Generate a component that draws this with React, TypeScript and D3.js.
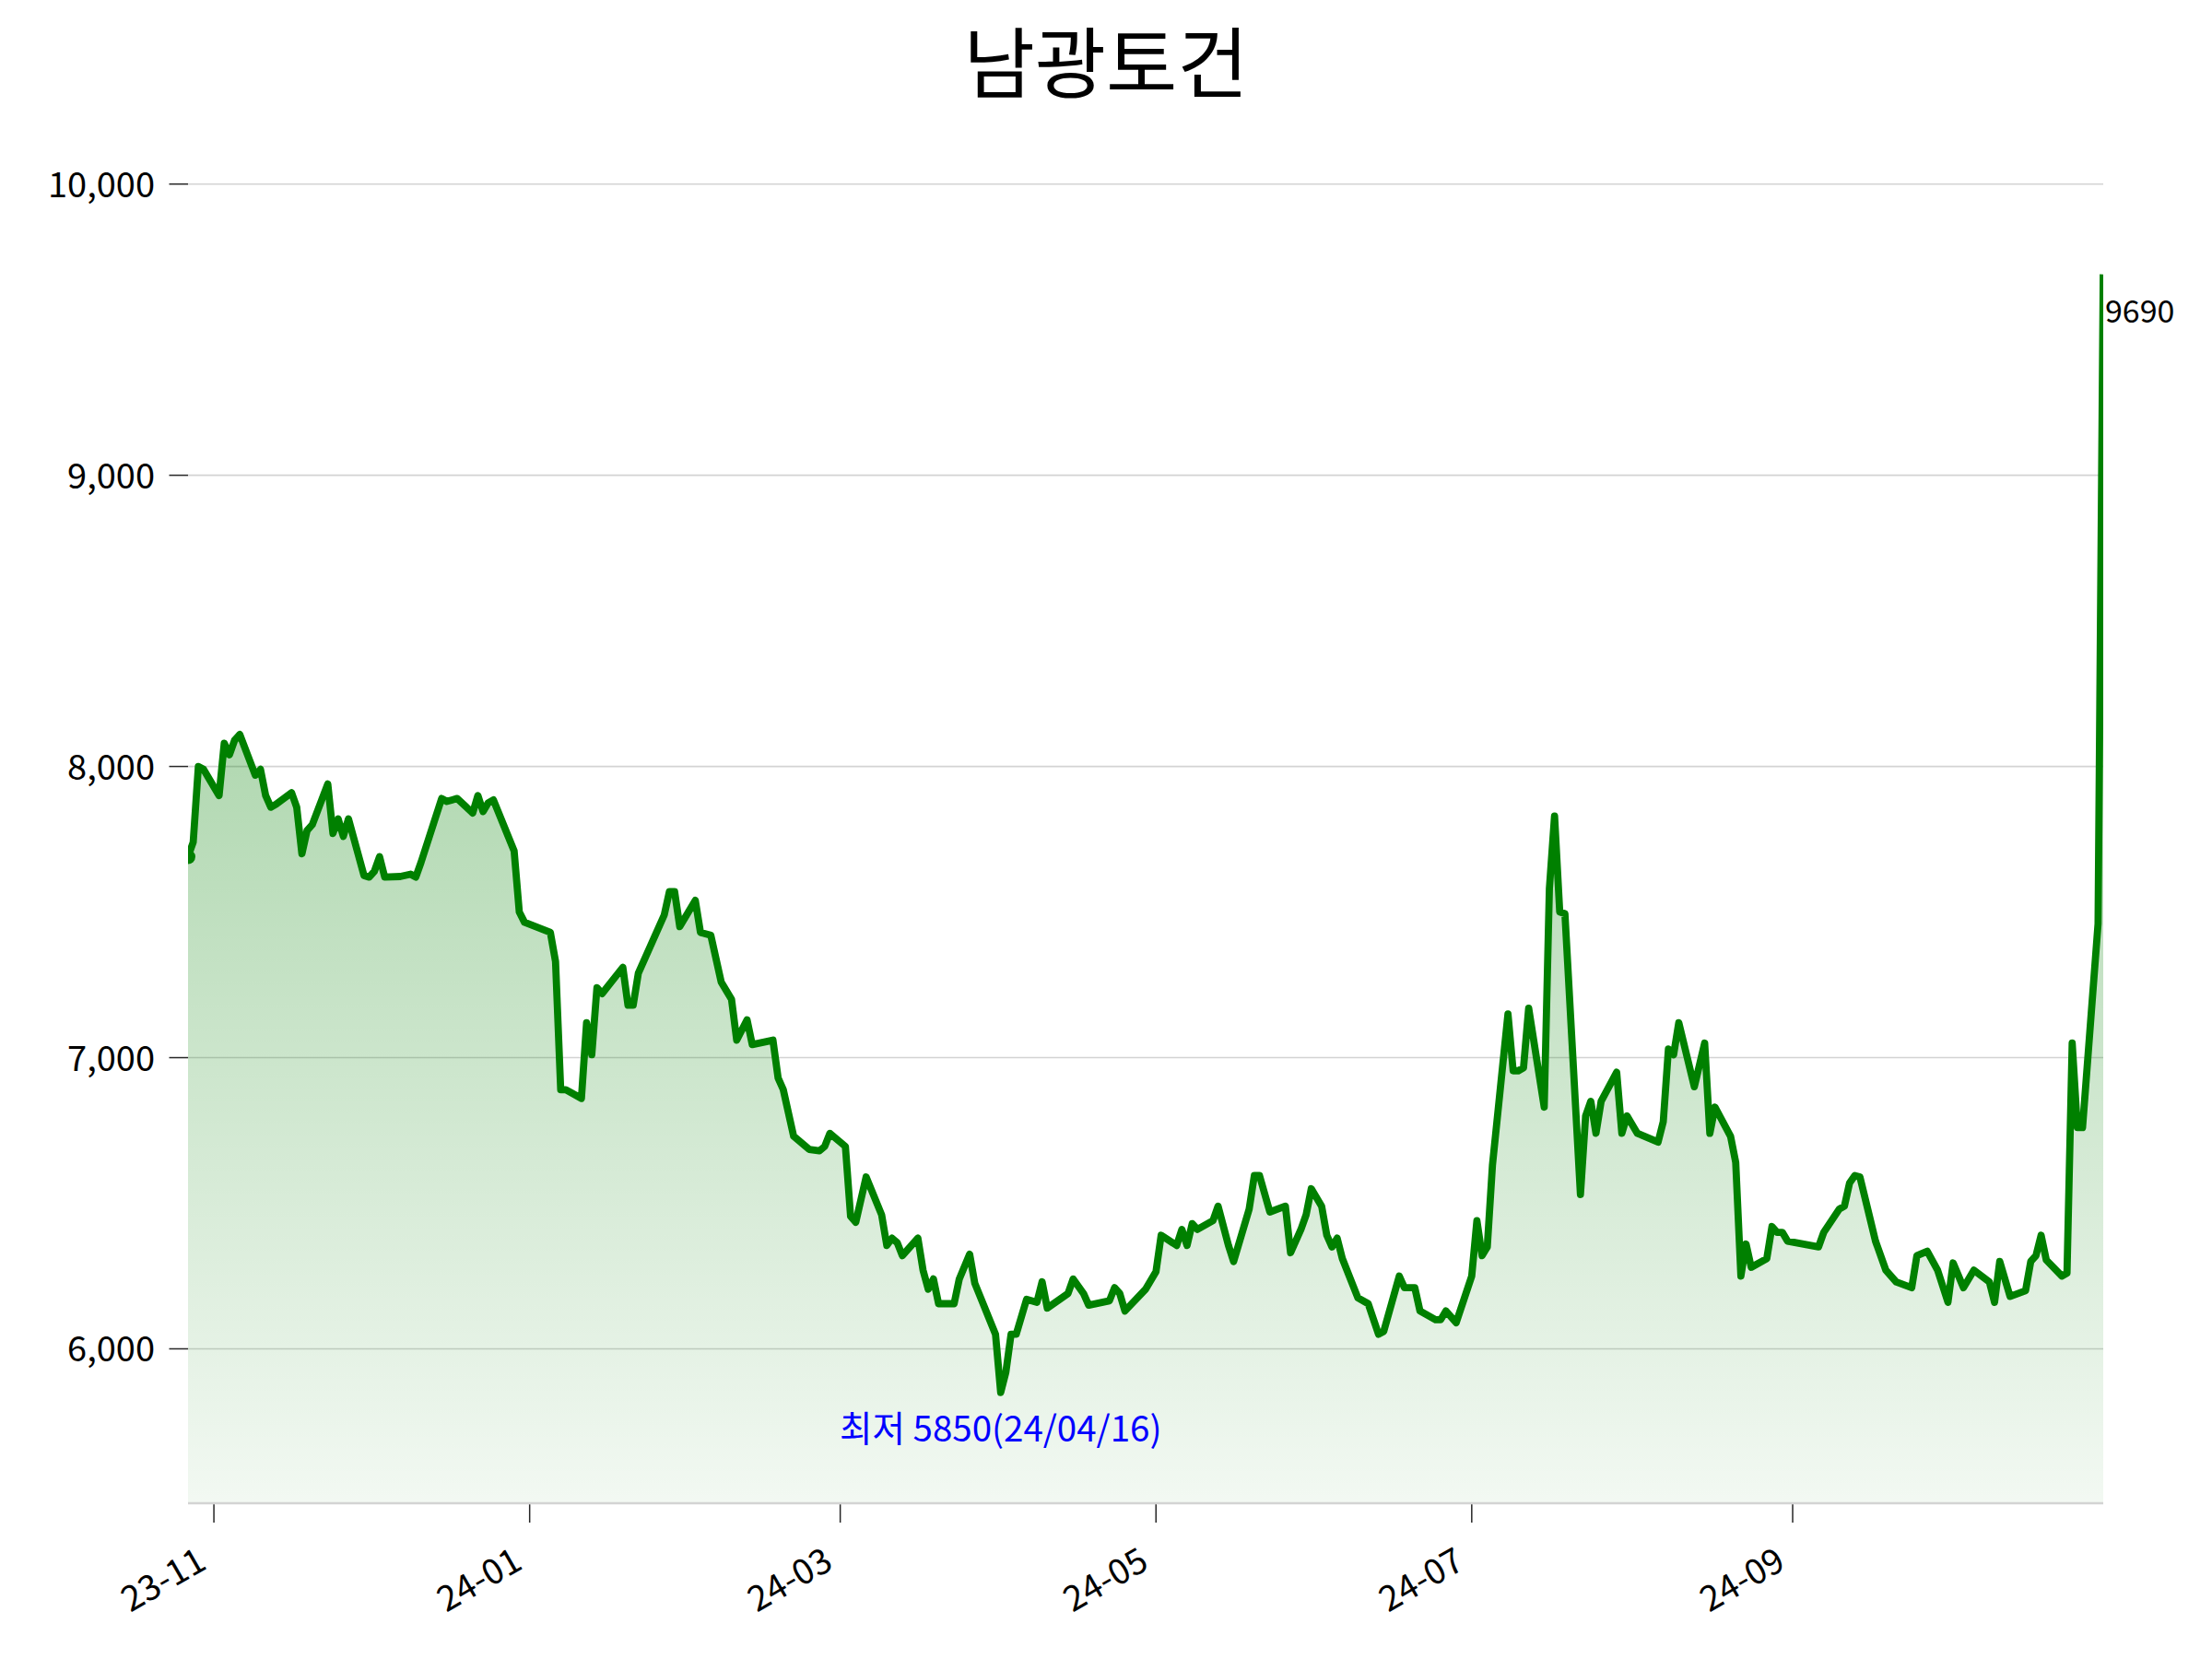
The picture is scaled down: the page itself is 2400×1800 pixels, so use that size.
import React from "react";
import * as d3 from "d3";

const chartTitle = "남광토건";

const dates = [
  "2023-10-27","2023-10-28","2023-10-29","2023-10-30","2023-11-02","2023-11-03","2023-11-04","2023-11-05","2023-11-06",
  "2023-11-09","2023-11-10","2023-11-11","2023-11-12","2023-11-13","2023-11-16","2023-11-17","2023-11-18","2023-11-19",
  "2023-11-20","2023-11-23","2023-11-24","2023-11-25","2023-11-26","2023-11-27","2023-11-30","2023-12-01","2023-12-02",
  "2023-12-03","2023-12-04","2023-12-07","2023-12-08","2023-12-09","2023-12-10","2023-12-11","2023-12-15","2023-12-16",
  "2023-12-17","2023-12-18","2023-12-21","2023-12-22","2023-12-23","2023-12-24","2023-12-25","2023-12-29","2023-12-30",
  "2023-12-31","2024-01-05","2024-01-06","2024-01-07","2024-01-08","2024-01-11","2024-01-12","2024-01-13","2024-01-14",
  "2024-01-15","2024-01-19","2024-01-20","2024-01-21","2024-01-22","2024-01-27","2024-01-28","2024-01-29","2024-01-30",
  "2024-02-02","2024-02-03","2024-02-05","2024-02-07","2024-02-09","2024-02-10","2024-02-12","2024-02-13","2024-02-17",
  "2024-02-18","2024-02-19","2024-02-21","2024-02-24","2024-02-26","2024-02-27","2024-02-28","2024-03-02","2024-03-03",
  "2024-03-04","2024-03-06","2024-03-09","2024-03-10","2024-03-11","2024-03-12","2024-03-13","2024-03-16","2024-03-17",
  "2024-03-18","2024-03-19","2024-03-20","2024-03-23","2024-03-24","2024-03-26","2024-03-27","2024-03-31","2024-04-01",
  "2024-04-02","2024-04-03","2024-04-04","2024-04-06","2024-04-08","2024-04-09","2024-04-10","2024-04-14","2024-04-15",
  "2024-04-17","2024-04-18","2024-04-22","2024-04-23","2024-04-24","2024-04-25","2024-04-29","2024-05-01","2024-05-02",
  "2024-05-05","2024-05-06","2024-05-07","2024-05-08","2024-05-09","2024-05-12","2024-05-13","2024-05-15","2024-05-16",
  "2024-05-19","2024-05-20","2024-05-21","2024-05-23","2024-05-26","2024-05-27","2024-05-29","2024-05-30","2024-05-31",
  "2024-06-02","2024-06-03","2024-06-04","2024-06-05","2024-06-06","2024-06-09","2024-06-11","2024-06-13","2024-06-14",
  "2024-06-17","2024-06-18","2024-06-20","2024-06-21","2024-06-24","2024-06-25","2024-06-26","2024-06-28","2024-07-01",
  "2024-07-02","2024-07-03","2024-07-04","2024-07-05","2024-07-08","2024-07-09","2024-07-10","2024-07-11","2024-07-12",
  "2024-07-15","2024-07-16","2024-07-17","2024-07-18","2024-07-19","2024-07-22","2024-07-23","2024-07-24","2024-07-25",
  "2024-07-26","2024-07-29","2024-07-30","2024-07-31","2024-08-02","2024-08-06","2024-08-07","2024-08-08","2024-08-09",
  "2024-08-10","2024-08-13","2024-08-15","2024-08-16","2024-08-17","2024-08-20","2024-08-21","2024-08-22","2024-08-23",
  "2024-08-24","2024-08-27","2024-08-28","2024-08-29","2024-08-30","2024-08-31","2024-09-06","2024-09-07","2024-09-10",
  "2024-09-11","2024-09-12","2024-09-13","2024-09-14","2024-09-17","2024-09-19","2024-09-21","2024-09-24","2024-09-25",
  "2024-09-27","2024-09-29","2024-10-01","2024-10-02","2024-10-04","2024-10-06","2024-10-09","2024-10-10","2024-10-11",
  "2024-10-13","2024-10-16","2024-10-17","2024-10-18","2024-10-19","2024-10-20","2024-10-23","2024-10-24","2024-10-25",
  "2024-10-26","2024-10-27","2024-10-30","2024-10-31",
];

const closes = [
  7690, 7740, 8000, 7990, 7900, 8080, 8040, 8090, 8110,
  7970, 7990, 7900, 7860, 7870, 7910, 7860, 7700, 7780,
  7800, 7940, 7770, 7820, 7760, 7820, 7625, 7620, 7640,
  7690, 7620, 7622, 7626, 7630, 7620, 7670, 7890, 7880,
  7885, 7890, 7840, 7900, 7845, 7875, 7885, 7710, 7500,
  7465, 7430, 7330, 6890, 6890, 6860, 7120, 7010, 7240,
  7220, 7310, 7180, 7180, 7290, 7490, 7570, 7570, 7450,
  7540, 7430, 7420, 7260, 7200, 7060, 7130, 7045, 7060,
  6930, 6890, 6730, 6685, 6680, 6695, 6740, 6695, 6455,
  6435, 6590, 6460, 6355, 6380, 6365, 6320, 6380, 6270,
  6205, 6240, 6155, 6155, 6240, 6325, 6225, 6050, 5850,
  5920, 6050, 6050, 6170, 6160, 6230, 6140, 6190, 6240,
  6190, 6150, 6165, 6210, 6190, 6130, 6205, 6265, 6390,
  6355, 6410, 6355, 6430, 6410, 6440, 6490, 6355, 6300,
  6480, 6595, 6595, 6470, 6490, 6330, 6410, 6460, 6550,
  6490, 6390, 6350, 6380, 6310, 6175, 6155, 6050, 6060,
  6250, 6210, 6210, 6130, 6100, 6100, 6130, 6090, 6250,
  6440, 6320, 6350, 6630, 7150, 6955, 6955, 6965, 7170,
  6830, 7580, 7830, 7500, 7495, 6530, 6800, 6850, 6740,
  6850, 6950, 6740, 6800, 6740, 6710, 6780, 7030, 7010,
  7120, 6900, 7050, 6740, 6830, 6730, 6640, 6250, 6360,
  6280, 6310, 6420, 6400, 6400, 6370, 6350, 6400, 6480,
  6490, 6570, 6595, 6590, 6370, 6270, 6230, 6210, 6320,
  6335, 6270, 6160, 6295, 6210, 6270, 6230, 6160, 6300,
  6180, 6200, 6300, 6320, 6390, 6305, 6250, 6260, 7050,
  6760, 6760, 7460, 9690,
];

const yTickValues = [6000, 7000, 8000, 9000, 10000];
const lowLabelPrefix = "최저";
const lowDateLabel = "24/04/16";

const W = 2400;
const H = 1800;
const plot = { left: 204, right: 2282, top: 190.5, bottom: 1631 };
const FONT = "'Noto Sans CJK KR', 'Noto Sans', sans-serif";
const GREEN = "#008000";

type Pt = { date: Date; value: number };

export default function App() {
  const parse = d3.timeParse("%Y-%m-%d");
  const data: Pt[] = dates.map((d, i) => ({ date: parse(d) as Date, value: closes[i] }));
  const minV = d3.min(closes) as number;
  const maxV = d3.max(closes) as number;
  const minPt = data[d3.minIndex(closes)];
  const lastPt = data[data.length - 1];

  const x = d3
    .scaleTime()
    .domain(d3.extent(data, (d) => d.date) as [Date, Date])
    .range([plot.left, plot.right]);
  const y = d3
    .scaleLinear()
    .domain([minV * 0.935, maxV * 1.035])
    .range([plot.bottom, plot.top]);

  const line = d3
    .line<Pt>()
    .x((d) => x(d.date))
    .y((d) => y(d.value));
  const area = d3
    .area<Pt>()
    .x((d) => x(d.date))
    .y0(plot.bottom)
    .y1((d) => y(d.value));

  const xTicks = x.ticks(d3.timeMonth.every(2) as d3.TimeInterval);
  const fmtX = d3.timeFormat("%y-%m");
  const fmtY = d3.format(",");

  return (
    <div>
      <style>{`body{margin:0;padding:0;background:#fff;}`}</style>
      <svg width={W} height={H} viewBox={`0 0 ${W} ${H}`} style={{ display: "block", background: "#fff" }}>
        <defs>
          <linearGradient id="fillGrad" gradientUnits="userSpaceOnUse" x1={0} y1={plot.top} x2={0} y2={plot.bottom}>
            <stop offset="0" stopColor={GREEN} stopOpacity={0.5} />
            <stop offset="1" stopColor={GREEN} stopOpacity={0.05} />
          </linearGradient>
          <clipPath id="plotClip">
            <rect x={plot.left} y={plot.top - 10} width={plot.right - plot.left} height={plot.bottom - plot.top + 10} />
          </clipPath>
        </defs>

        <text x={1200} y={100} textAnchor="middle" fontFamily={FONT} fontSize={84} fill="#000">
          {chartTitle}
        </text>

        {/* grid lines */}
        {yTickValues.map((v) => (
          <line key={"g" + v} x1={plot.left} x2={plot.right} y1={y(v)} y2={y(v)} stroke="#d3d3d3" strokeWidth={1.6} />
        ))}

        {/* area + line */}
        <g clipPath="url(#plotClip)">
          <path d={area(data) || ""} fill="url(#fillGrad)" stroke="none" />
          <path d={line(data) || ""} fill="none" stroke={GREEN} strokeWidth={7.8} strokeLinejoin="round" strokeLinecap="butt" />
          <circle cx={x(data[0].date)} cy={y(data[0].value)} r={8} fill={GREEN} />
        </g>

        {/* bottom axis line */}
        <line x1={plot.left} x2={plot.right} y1={plot.bottom} y2={plot.bottom} stroke="#d3d3d3" strokeWidth={2.6} />

        {/* y ticks */}
        {yTickValues.map((v) => (
          <g key={"y" + v}>
            <line x1={183.5} x2={plot.left} y1={y(v)} y2={y(v)} stroke="#262626" strokeWidth={1.5} />
            <text x={168} y={y(v) + 14} textAnchor="end" fontFamily={FONT} fontSize={38} fill="#000">
              {fmtY(v)}
            </text>
          </g>
        ))}

        {/* x ticks */}
        {xTicks.map((t) => (
          <g key={"x" + t.getTime()}>
            <line x1={x(t)} x2={x(t)} y1={plot.bottom + 1.3} y2={plot.bottom + 21} stroke="#262626" strokeWidth={1.5} />
            <text
              transform={`translate(${x(t) - 6},${1701}) rotate(-30)`}
              textAnchor="end"
              fontFamily={FONT}
              fontSize={38}
              fill="#000"
            >
              {fmtX(t)}
            </text>
          </g>
        ))}

        {/* last value label */}
        <text x={x(lastPt.date) + 2} y={y(lastPt.value) + 52} fontFamily={FONT} fontSize={34} fill="#000">
          {String(lastPt.value)}
        </text>

        {/* low annotation */}
        <text x={x(minPt.date)} y={y(minPt.value) + 53} textAnchor="middle" fontFamily={FONT} fontSize={38.5} fill="#0000ff">
          {`${lowLabelPrefix} ${minV}(${lowDateLabel})`}
        </text>
      </svg>
    </div>
  );
}
